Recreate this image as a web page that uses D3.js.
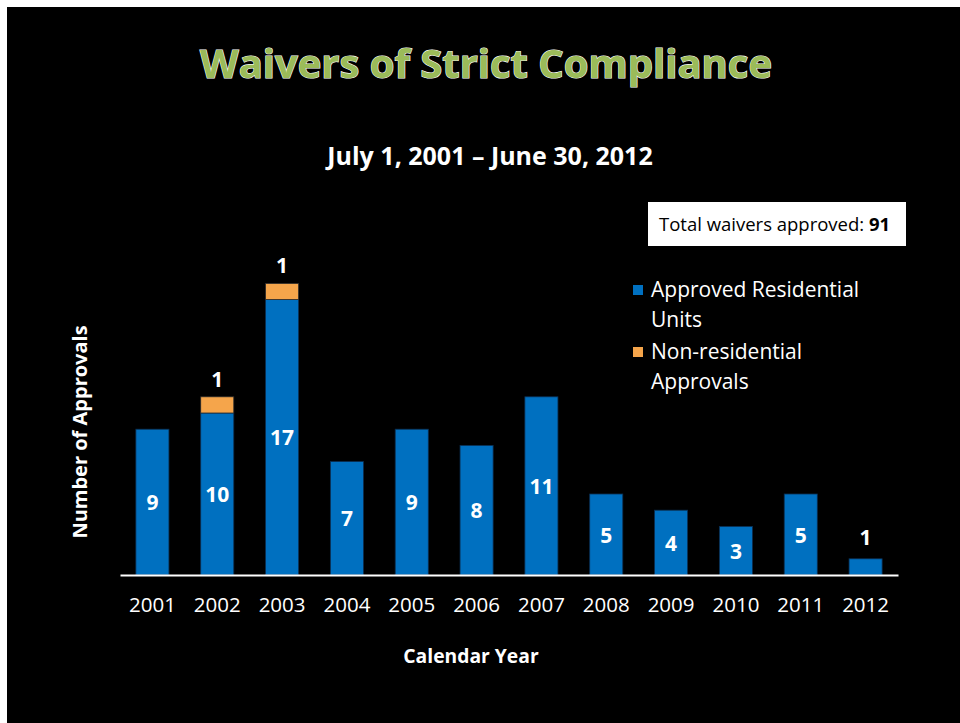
<!DOCTYPE html>
<html>
<head>
<meta charset="utf-8">
<script src="https://d3js.org/d3.v7.min.js"></script>
<style>
body { margin: 0; background: #ffffff; }
svg text { font-family: "Open Sans", Lato, sans-serif; }
</style>
</head>
<body>
<div id="chart"></div>
<script>

// --- Daten ------------------------------------------------------------ //

var years = ['2001','2002','2003','2004','2005','2006','2007','2008','2009','2010','2011','2012'];
var residential = [9, 10, 17, 7, 9, 8, 11, 5, 4, 3, 5, 1];
var nonResidential = [0, 1, 1, 0, 0, 0, 0, 0, 0, 0, 0, 0];
var legendLabels = [['Approved Residential', 'Units'], ['Non-residential', 'Approvals']];
var totalApproved = 91;

var blue = '#0070c0';
var orange = '#f5a54b';

var width = 960, height = 723;

var svg = d3.select('#chart').append('svg')
    .attr('width', width)
    .attr('height', height);

// Hintergrund
svg.append('rect')
    .attr('x', 7).attr('y', 7)
    .attr('width', width - 7).attr('height', height - 7)
    .attr('fill', '#000000');

// --- Titel ------------------------------------------------------------ //

svg.append('text')
    .text('Waivers of Strict Compliance')
    .attr('x', 486).attr('y', 78)
    .attr('text-anchor', 'middle')
    .attr('fill', '#9bbb59')
    .attr('stroke', '#ffffff')
    .attr('stroke-width', 1.2)
    .attr('paint-order', 'stroke')
    .attr('textLength', 572)
    .attr('lengthAdjust', 'spacingAndGlyphs')
    .style('font-weight', 'bold')
    .style('font-size', '40px');

svg.append('text')
    .text('July 1, 2001 \u2013 June 30, 2012')
    .attr('x', 490).attr('y', 165)
    .attr('text-anchor', 'middle')
    .attr('fill', '#ffffff')
    .style('font-weight', 'bold')
    .style('font-size', '25px');

// --- Skalen ----------------------------------------------------------- //

var x = d3.scaleBand()
    .domain(years)
    .range([120, 898])
    .paddingInner(0.49)
    .paddingOuter(0.245);

var y = d3.scaleLinear()
    .domain([0, 20])
    .range([575, 251]);

// --- Balken ----------------------------------------------------------- //

var bars = svg.append('g');

bars.selectAll('rect.res')
    .data(years)
    .enter().append('rect')
    .attr('class', 'res')
    .attr('x', function(d) { return x(d); })
    .attr('width', x.bandwidth())
    .attr('y', function(d, i) { return y(residential[i]); })
    .attr('height', function(d, i) { return y(0) - y(residential[i]); })
    .attr('fill', blue)
    .attr('stroke', '#0b2f52')
    .attr('stroke-width', 0.8);

bars.selectAll('rect.non')
    .data(years.filter(function(d, i) { return nonResidential[i] > 0; }))
    .enter().append('rect')
    .attr('class', 'non')
    .attr('x', function(d) { return x(d); })
    .attr('width', x.bandwidth())
    .attr('y', function(d) { var i = years.indexOf(d); return y(residential[i] + nonResidential[i]); })
    .attr('height', function(d) { var i = years.indexOf(d); return y(residential[i]) - y(residential[i] + nonResidential[i]); })
    .attr('fill', orange)
    .attr('stroke', '#2a2a2a')
    .attr('stroke-width', 0.8);

// Werte
var labels = svg.append('g')
    .style('font-weight', 'bold')
    .style('font-size', '21px')
    .attr('fill', '#ffffff')
    .attr('text-anchor', 'middle');

years.forEach(function(d, i) {
    var cx = x(d) + x.bandwidth() / 2;
    var v = residential[i];
    var ly;
    if (v > 1) {
        ly = (y(0) + y(v)) / 2 + 8;
    } else {
        ly = y(v) - 14;
    }
    labels.append('text').attr('x', cx).attr('y', ly).text(v);

    if (nonResidential[i] > 0) {
        labels.append('text')
            .attr('x', cx)
            .attr('y', y(v + nonResidential[i]) - 10)
            .text(nonResidential[i]);
    }
});

// --- Achsen ----------------------------------------------------------- //

var xAxis = svg.append('g')
    .attr('transform', 'translate(0,575)')
    .call(d3.axisBottom(x).tickSize(0).tickPadding(22));

xAxis.select('.domain')
    .attr('stroke', '#ffffff')
    .attr('stroke-width', 2);

xAxis.selectAll('text')
    .attr('fill', '#ffffff')
    .style('font-family', '"Open Sans", sans-serif')
    .style('font-size', '20.5px');

svg.append('text')
    .text('Calendar Year')
    .attr('x', 471).attr('y', 663)
    .attr('text-anchor', 'middle')
    .attr('fill', '#ffffff')
    .style('font-weight', 'bold')
    .style('font-size', '19.3px');

svg.append('text')
    .text('Number of Approvals')
    .attr('transform', 'translate(87,432) rotate(-90)')
    .attr('text-anchor', 'middle')
    .attr('fill', '#ffffff')
    .style('font-weight', 'bold')
    .style('font-size', '20px');

// --- Gesamtbox -------------------------------------------------------- //

svg.append('rect')
    .attr('x', 648).attr('y', 202)
    .attr('width', 258).attr('height', 44)
    .attr('fill', '#ffffff');

var total = svg.append('text')
    .attr('x', 659).attr('y', 231)
    .attr('fill', '#000000')
    .style('font-size', '18.5px');
total.append('tspan').text('Total waivers approved: ');
total.append('tspan').style('font-weight', 'bold').text(totalApproved);

// --- Legende ---------------------------------------------------------- //

var legend = svg.append('g');
var legendColors = [blue, orange];

legendLabels.forEach(function(lines, i) {
    var top = 285 + i * 62;
    legend.append('rect')
        .attr('x', 633).attr('y', top)
        .attr('width', 10).attr('height', 10)
        .attr('fill', legendColors[i]);
    lines.forEach(function(line, j) {
        legend.append('text')
            .attr('x', 651).attr('y', top + 12 + j * 30)
            .attr('fill', '#ffffff')
            .style('font-size', '21px')
            .text(line);
    });
});

</script>
</body>
</html>
